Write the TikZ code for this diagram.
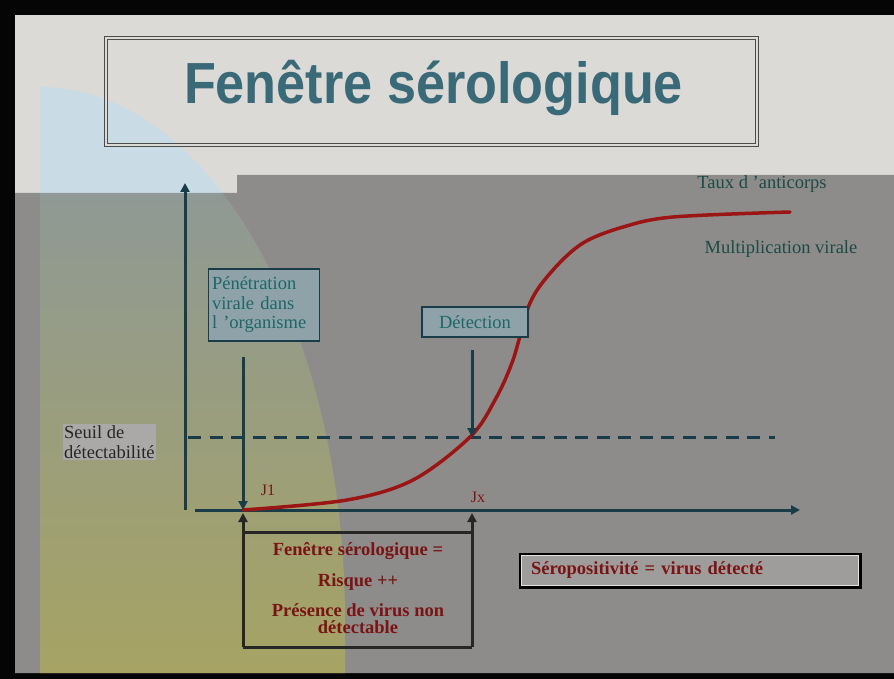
\documentclass[tikz,border=0pt]{standalone}
\usepackage{fontspec}
\setmainfont{Liberation Serif}
\newfontfamily\titlefont{Liberation Sans}
\usetikzlibrary{arrows.meta,positioning}

\definecolor{frameblack}{HTML}{050505}
\definecolor{slidelight}{HTML}{DCDAD7}
\definecolor{slidegray}{HTML}{8E8C8A}
\definecolor{paleblue}{HTML}{C9DCE6}
\definecolor{discgray}{HTML}{8A97A0}
\definecolor{discmid}{HTML}{939698}
\definecolor{discolive}{HTML}{A6A363}
\definecolor{axisblue}{HTML}{1A3C48}
\definecolor{curvered}{HTML}{9B1515}
\definecolor{boxfill}{HTML}{8FA2A9}
\definecolor{tealtext}{HTML}{1D6767}
\definecolor{darkred}{HTML}{7A1414}
\definecolor{titleteal}{HTML}{3A6977}
\definecolor{greentext}{HTML}{1C4B46}

\begin{document}
\begin{tikzpicture}[x=1pt,y=-1pt,
  axis/.style={draw=axisblue,line width=3pt},
  tip/.style={-{Triangle[length=9pt,width=9pt]}},
  curve/.style={draw=curvered,line width=3.5pt,line cap=round},
  infobox/.style={draw=axisblue,line width=1.5pt,fill=boxfill,text=tealtext,
    font=\fontsize{18.5}{19.5}\selectfont,inner ysep=0pt},
  bracket/.style={draw=black!85,line width=3pt},
  risk/.style={text=darkred,font=\bfseries\fontsize{18.5}{18}\selectfont,anchor=base,inner sep=0pt},
  note/.style={text=greentext,font=\fontsize{18.5}{19.5}\selectfont,inner sep=1pt},
  day/.style={text=darkred,font=\fontsize{16}{16}\selectfont,inner sep=0pt}]

  % Slide background
  \fill[frameblack] (0,0) rectangle (894,679);
  \fill[slidelight] (15,15) rectangle (894,673);
  \fill[slidegray] (15,193) -- (237,193) -- (237,175) -- (894,175) -- (894,673) -- (15,673) -- cycle;

  % Quarter disc on the left
  \begin{scope}
    \clip (15,15) -- (894,15) -- (894,175) -- (237,175) -- (237,193) -- (15,193) -- cycle;
    \fill[paleblue] (40,673) -- (40,87) arc[start angle=-90,end angle=0,x radius=305,y radius=533] -- (345,673) -- cycle;
  \end{scope}
  \begin{scope}
    \clip (15,193) -- (237,193) -- (237,175) -- (894,175) -- (894,673) -- (15,673) -- cycle;
    \shade[top color=discgray,middle color=discmid,bottom color=discolive]
      (40,673) -- (40,87) arc[start angle=-90,end angle=0,x radius=305,y radius=533] -- (345,673) -- cycle;
  \end{scope}

  % Title
  \node[draw=black!70,double=slidelight,double distance=2pt,line width=0.8pt,
    minimum width=651pt,minimum height=107pt,inner sep=0pt] (titleframe) at (431.5,91.5) {};
  \node[anchor=base,text=titleteal,font=\titlefont\bfseries\fontsize{58}{60}\selectfont,inner sep=0pt]
    (title) at (433.5,104) {\scalebox{0.9}[1]{Fenêtre sérologique}};

  % Axes and threshold
  \coordinate (orig) at (185,510);
  \coordinate (ytop) at (185,183);
  \coordinate (xstart) at (195,510);
  \coordinate (xend) at (800,510);
  \coordinate (seuilstart) at (188,437);
  \coordinate (seuilend) at (775,437);
  \draw[axis,tip] (orig) -- (ytop);
  \draw[axis,tip] (xstart) -- (xend);
  \draw[axis,dash pattern=on 13pt off 8.5pt] (seuilstart) -- (seuilend);

  % Antibody curve
  \coordinate (j1) at (243,510);
  \coordinate (det) at (472,437);
  \draw[curve] plot[smooth,tension=0.55] coordinates {(243,510) (347,500) (413,480) (470,437)
    (495,400) (513,360) (530,303) (553,270) (583,243) (623,227) (673,217) (790,212)};

  % Boxes and labels
  \node[infobox,text width=104pt,align=left,minimum height=72pt] (pen) at (264,305)
    {Pénétration\\virale dans\\l ’organisme};
  \node[infobox,minimum width=106pt,minimum height=30pt] (detection) at (475,322) {Détection};
  \node[note] (taux) at (762,184) {Taux d ’anticorps};
  \node[note] (multi) at (781,249) {Multiplication virale};
  \node[anchor=west,align=left,text=black!85,fill=slidegray!75!white,inner sep=1pt,
    font=\fontsize{18.5}{20}\selectfont] (seuil) at (63,442) {Seuil de\\détectabilité};
  \node[day] (j1lbl) at (268,490) {J1};
  \node[day] (jxlbl) at (478,497) {Jx};

  % Arrows to the curve
  \coordinate (penarrow) at (243,357);
  \coordinate (detarrow) at (472,350);
  \draw[axis,tip] (penarrow) -- (j1);
  \draw[axis,tip] (detarrow) -- (det);

  % Window bracket
  \coordinate (brlow1) at (243,647);
  \coordinate (brlow2) at (472,647);
  \coordinate (brtop1) at (243,532);
  \coordinate (brtop2) at (472,532);
  \coordinate (brtip1) at (243,513);
  \coordinate (brtip2) at (472,513);
  \draw[bracket,tip] (brlow1) -- (brtip1);
  \draw[bracket,tip] (brlow2) -- (brtip2);
  \draw[bracket] (brtop1) -- (brtop2);
  \draw[bracket] (brlow1) -- (brlow2);
  \node[risk] (riskA) at (358,555) {Fenêtre sérologique =};
  \node[risk] (riskB) at (358,586) {Risque ++};
  \node[risk] (riskC) at (358,616) {Présence de virus non};
  \node[risk] (riskD) at (358,633) {détectable};

  % Seropositivity box
  \node[draw=black,line width=3pt,fill=slidegray!85!white,minimum height=33pt,inner xsep=11pt,
    text width=318pt,align=left,text=darkred,font=\bfseries\fontsize{18.5}{19}\selectfont]
    (sero) at (690,570.5) {Séropositivité = virus détecté};
  \draw[white!75!slidegray,line width=1.5pt] ([shift={(3pt,3pt)}]sero.south west) rectangle ([shift={(-3pt,-3pt)}]sero.north east);

\end{tikzpicture}
\end{document}
